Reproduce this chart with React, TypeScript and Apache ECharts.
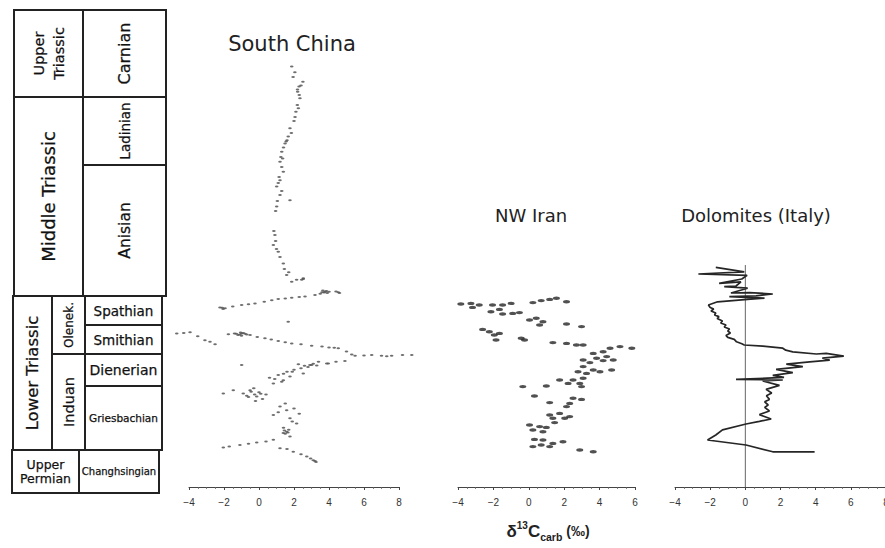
import React, { useEffect, useRef } from "react";
import * as echarts from "echarts";

// ---- stratigraphic column (levels: 0 = base of column, 121 = top) ----
const unitNames = [
  "Upper\nTriassic", "Carnian", "Middle Triassic", "Ladinian", "Anisian",
  "Lower Triassic", "Olenek.", "Induan", "Spathian", "Smithian", "Dienerian",
  "Griesbachian", "Upper\nPermian", "Changhsingian",
];
const unitTop = [120.75, 120.75, 99, 99, 82, 49.25, 49.25, 34.75, 49.25, 42, 34.75, 26.75, 10.75, 10.75];
const unitBase = [99, 99, 49.25, 82, 49.25, 10.75, 34.75, 10.75, 42, 34.75, 26.75, 10.75, 0, 0];

// ---- δ13C carb data: [value ‰, stratigraphic level] ----
const southChina: [number, number][] = [
  [1.87, 106.6], [2.05, 105.2], [1.95, 104], [2.51, 102.8], [2.4, 101.9], [2.29, 101.6], [2.21, 100.3],
  [2.3, 99.5], [2.34, 98.7], [2.19, 97], [2.25, 96.2], [2.11, 95.3], [2.06, 94], [2.0, 93], [1.77, 91.2],
  [1.85, 90], [1.67, 89.1], [1.6, 88.2], [1.49, 87.4], [1.4, 86.4], [1.3, 85.3], [1.25, 84], [1.2, 82.8],
  [1.3, 81.5], [1.39, 80.3], [1.15, 79], [1.1, 77.5], [1.01, 76.6], [1.3, 75.5], [1.2, 74.5], [1.77, 73.2],
  [1.05, 73], [1.01, 71.6], [0.95, 70.5], [0.85, 65.5], [0.91, 64.5], [0.95, 63], [0.82, 62], [1.0, 61],
  [1.1, 60.3], [1.2, 59], [1.39, 57.4], [1.45, 56], [1.7, 55.2], [1.58, 54.5], [2.15, 53.3], [2.53, 53.7],
  [1.87, 52.8], [2.44, 53.3], [2.53, 53.5], [2.2, 100.9], [1.55, 87.9], [1.35, 83.6], [1.2, 78.2],
  [3.77, 50.3], [3.65, 50.6], [3.9, 50.0], [4.53, 50.2], [4.4, 50.4], [3.5, 49.8], [3.2, 49.5], [2.63, 49.1],
  [3.85, 50.5], [3.72, 50.1], [4.0, 50.3], [3.6, 50.2], [4.6, 50.0],
  [2.3, 49.0], [1.87, 48.8], [1.5, 48.6], [1.1, 48.5], [0.73, 48.2], [0.3, 47.8], [-0.23, 47.4], [-0.6, 47.2],
  [-0.99, 47], [-1.5, 46.6], [-1.94, 46.2], [-2.23, 46.4], [-2.05, 46.0], [-2.1, 46.3], [1.67, 42.8],
  [-4.7, 39.9], [-4.3, 40.0], [-3.94, 40.2], [-3.5, 39.2], [-3.09, 38.2], [-2.8, 37.8], [-2.51, 37.2],
  [-1.75, 39.7], [-1.4, 39.9], [-1.2, 39.5], [-1.05, 40.1], [-0.99, 39.9], [-0.8, 39.8], [-0.51, 39.5],
  [-1.3, 39.8], [-1.1, 39.6], [-0.9, 40.0], [-0.7, 39.6], [-1.0, 39.3],
  [-0.1, 39.0], [0.34, 38.7], [0.7, 38.4], [1.1, 38], [1.5, 37.7], [1.87, 37.4], [2.4, 37.2], [3.01, 36.8],
  [3.6, 36.6], [4.0, 36.4], [4.53, 36.2], [5.0, 35.4], [5.49, 34.3], [6.0, 34.4], [6.44, 34.5], [7.0, 34.3],
  [7.58, 34.3], [8.2, 34.5], [8.73, 34.5], [4.3, 36.3], [5.3, 34.6], [7.3, 34.2],
  [4.91, 33], [4.4, 32.8], [3.96, 32.4], [3.87, 32.4], [3.4, 32.8], [3.01, 32], [2.91, 32], [2.25, 32.2],
  [2.8, 31.5], [2.4, 31.2], [2.0, 30.8], [1.6, 30.3], [2.53, 29.9], [1.1, 29.5], [1.77, 29.1], [0.6, 28.8],
  [1.39, 28.2], [1.3, 27.8], [0.82, 27.4], [-0.99, 32], [3.1, 32.3], [2.6, 31.8], [3.3, 31.9], [1.9, 30.3],
  [1.4, 29.8], [0.9, 28.5],
  [-0.3, 26.2], [-0.51, 25.7], [-1.47, 25.7], [0.0, 25.2], [-2.04, 24.9], [-0.9, 24.9], [0.4, 24.6],
  [-0.7, 24.3], [-0.13, 24.1], [0.2, 23.5], [-0.2, 23], [-0.45, 25.3], [-0.25, 24.6], [0.1, 24.8],
  [-0.6, 24.0], [1.5, 22.4], [1.2, 21.6], [2.0, 21.1], [1.58, 20.7],
  [1.1, 20.2], [2.3, 19.8], [0.82, 19.5], [1.77, 18.7], [1.9, 17.9], [2.15, 17.4], [1.4, 16.3], [1.7, 15.8],
  [1.58, 15.3], [1.39, 15.0], [1.5, 14.8], [1.77, 14.1], [1.65, 15.1], [1.45, 15.6], [0.82, 13.3],
  [-0.13, 12.6], [-1.09, 12.0], [-2.04, 11.4], [-1.7, 11.6], [-0.6, 12.3], [0.4, 12.9], [1.2, 11.2],
  [1.6, 11.0], [1.96, 10.3], [2.4, 9.7], [2.73, 9.1], [3.1, 8.2], [3.26, 7.75], [2.95, 8.6], [3.2, 8.0],
];

const nwIran: [number, number][] = [
  [-3.84, 47.25], [-3.27, 47.4], [-2.8, 47], [-3.18, 46.4], [-2.05, 47], [-1.48, 47], [-1.0, 47.4],
  [-1.66, 45.9], [-2.14, 45.3], [-1.48, 44.75], [-0.91, 44.9], [-0.53, 45.1], [0.23, 47.6], [0.7, 48.1],
  [1.18, 48.4], [1.56, 48.7], [2.13, 47.8], [0.04, 43.25], [0.42, 43.7], [0.8, 42.8], [0.61, 42],
  [2.13, 42.25], [2.98, 41.6], [-2.61, 40.9], [-2.23, 40.3], [-1.66, 39.9], [-1.95, 39.5], [-1.85, 38.25],
  [-0.43, 38.7], [-0.24, 38.25], [1.36, 37.6], [2.13, 37.4], [2.69, 37], [3.07, 37], [3.64, 34.9],
  [4.2, 35.3], [4.59, 36.2], [5.15, 36.6], [5.82, 36.2], [3.83, 33.7], [4.4, 34.1], [3.07, 33.25],
  [3.45, 32.6], [4.2, 33.1], [4.77, 33.25], [3.07, 31.6], [3.64, 30.75], [2.78, 30.3], [3.26, 29.9],
  [4.02, 30.3], [4.68, 30.75], [3.07, 28.7], [2.5, 28.25], [1.74, 28.25], [2.22, 27.4], [2.88, 27.4],
  [2.98, 26.6], [-0.34, 26.6], [0.99, 26.75], [0.32, 24.25], [2.5, 23.7], [2.98, 23.4], [1.18, 22.6],
  [2.31, 22.4], [2.13, 21.6], [1.18, 19.5], [1.74, 19.9], [2.03, 18.7], [1.36, 18.7], [2.31, 19.1],
  [1.46, 17.6], [0.04, 17], [0.61, 16.6], [0.99, 16.4], [0.23, 15.75], [0.8, 15.3], [0.32, 13.4],
  [0.8, 13.25], [1.36, 12.4], [1.93, 12.8], [0.23, 11.6], [0.7, 12], [1.18, 11.6], [2.88, 10.75],
  [3.64, 10.3],
];

const dolomites: [number, number][] = [
  [-1.68, 56.4], [-0.06, 55.3], [-2.67, 54.75], [0.1, 54.4], [-0.2, 53.5], [-1.49, 52.4], [-0.25, 52.8],
  [-0.53, 51.75], [-1.2, 51.6], [0.13, 51.2], [-0.82, 50.0], [0.23, 50.1], [1.56, 49.75], [0.61, 49.3],
  [-0.91, 49.1], [1.09, 48.7], [0.13, 48.4], [-1.58, 47.8], [-2.1, 47], [-2.0, 46.4], [-1.8, 46.0],
  [-1.95, 45.5], [-1.68, 45], [-1.75, 44.5], [-1.5, 44.1], [-1.6, 43.6], [-1.3, 43.0], [-1.4, 42.5],
  [-1.1, 42.0], [-1.2, 41.5], [-0.9, 41], [-1.0, 40.5], [-0.85, 40], [-1.1, 39.4], [-1.0, 38.9],
  [-0.63, 38.4], [-0.5, 37.8], [-0.2, 37.3], [-0.06, 37], [1.0, 36.7], [2.13, 36.2], [2.3, 35.7],
  [2.7, 35.3], [4.04, 34.75], [4.6, 34.9], [5.6, 34.2], [4.38, 33.7], [4.8, 33.2], [3.66, 32.8],
  [2.33, 32.2], [3.27, 31.6], [1.75, 30.9], [2.7, 30.1], [1.56, 29.4], [2.2, 28.9], [-0.53, 28.4],
  [2.13, 28.25], [0.99, 28.0], [1.94, 26.9], [1.18, 25.9], [1.5, 25.0], [1.2, 24.3], [1.37, 23.4],
  [1.1, 22.8], [1.3, 22], [1.1, 21.4], [1.37, 20.5], [0.8, 19.6], [1.47, 18.5], [0.8, 17.9],
  [0.04, 17.25], [-1.3, 15.8], [-1.68, 14.5], [-2.15, 13.25], [0.04, 12], [1.56, 10.3], [3.94, 10.3],
];
const dolomitesZeroLine: [number, number][] = [[0, 57], [0, 1.5]];

const panelTitles = ["South China", "NW Iran", "Dolomites (Italy)"];
const xRanges: [number, number][] = [[-4, 8], [-4, 6], [-4, 8]];

// ---- layout / style (not data) ----
const cellLayout: Record<string, { x0: number; x1: number; size: number; rot: boolean; lh?: number }> = {
  "Upper\nTriassic": { x0: 3, x1: 72, size: 14.5, rot: true, lh: 20 },
  Carnian: { x0: 72, x1: 155, size: 16, rot: true },
  "Middle Triassic": { x0: 3, x1: 72, size: 18, rot: true },
  Ladinian: { x0: 72, x1: 155, size: 13.5, rot: true },
  Anisian: { x0: 72, x1: 155, size: 15.5, rot: true },
  "Lower Triassic": { x0: 2, x1: 41, size: 16.5, rot: true },
  "Olenek.": { x0: 41, x1: 74, size: 12, rot: true },
  Induan: { x0: 41, x1: 74, size: 14.5, rot: true },
  Spathian: { x0: 74, x1: 151, size: 13.5, rot: false },
  Smithian: { x0: 74, x1: 151, size: 13.5, rot: false },
  Dienerian: { x0: 74, x1: 151, size: 14, rot: false },
  Griesbachian: { x0: 74, x1: 151, size: 10.5, rot: false },
  "Upper\nPermian": { x0: 1, x1: 68, size: 12.5, rot: false, lh: 14 },
  Changhsingian: { x0: 68, x1: 148, size: 10, rot: false },
};

const FONT = "DejaVu Sans";
const ELLIPSE = "path://M0,1A2,1 0 1,0 4,1A2,1 0 1,0 0,1Z";

const fmt = (v: number) => (v < 0 ? "\u2212" + Math.abs(v) : String(v));

function mkX(gridIndex: number, range: [number, number]) {
  return {
    gridIndex,
    type: "value",
    min: range[0],
    max: range[1],
    interval: 2,
    axisLine: { show: true, onZero: false, lineStyle: { color: "#444", width: 1 } },
    axisTick: { show: true, length: 3, lineStyle: { color: "#444", width: 1 } },
    minorTick: { show: true, splitNumber: 4, length: 2, lineStyle: { color: "#666", width: 0.8 } },
    axisLabel: { fontSize: 10, color: "#333", margin: 10, fontFamily: "Liberation Sans", formatter: fmt, showMaxLabel: true, showMinLabel: true },
    splitLine: { show: false },
    minorSplitLine: { show: false },
  };
}
function mkY(gridIndex: number, min: number) {
  return { gridIndex, type: "value", min, max: 121, show: false, splitLine: { show: false } };
}

export default function App() {
  const ref = useRef<HTMLDivElement>(null);
  useEffect(() => {
    if (!ref.current) return;
    const chart = echarts.init(ref.current, null, { renderer: "svg" });

    const columnData = unitNames.map((n, i) => [i, unitTop[i], unitBase[i]]);

    const option: any = {
      animation: false,
      backgroundColor: "#ffffff",
      grid: [
        { left: 11, top: 9, width: 155, height: 484, outerBoundsMode: "none", containLabel: false },
        { left: 189, top: 9, width: 210, height: 478, outerBoundsMode: "none", containLabel: false },
        { left: 458, top: 9, width: 177, height: 478, outerBoundsMode: "none", containLabel: false },
        { left: 675, top: 9, width: 211, height: 478, outerBoundsMode: "none", containLabel: false },
      ],
      xAxis: [
        { gridIndex: 0, type: "value", min: 0, max: 155, show: false, splitLine: { show: false } },
        mkX(1, xRanges[0]),
        mkX(2, xRanges[1]),
        mkX(3, xRanges[2]),
      ],
      yAxis: [
        { gridIndex: 0, type: "value", min: 0, max: 121, show: false, splitLine: { show: false } },
        mkY(1, 1.5),
        mkY(2, 1.5),
        mkY(3, 1.5),
      ],
      series: [
        {
          type: "custom",
          xAxisIndex: 0,
          yAxisIndex: 0,
          data: columnData,
          encode: { x: 0, y: [1, 2] },
          clip: false,
          renderItem: (params: any, api: any) => {
            const idx = api.value(0);
            const name = unitNames[idx];
            const lay = cellLayout[name];
            const p0 = api.coord([lay.x0, api.value(1)]);
            const p1 = api.coord([lay.x1, api.value(2)]);
            const cx = (p0[0] + p1[0]) / 2;
            const cy = (p0[1] + p1[1]) / 2;
            return {
              type: "group",
              children: [
                {
                  type: "rect",
                  shape: { x: p0[0], y: p0[1], width: p1[0] - p0[0], height: p1[1] - p0[1] },
                  style: { fill: "none", stroke: "#222", lineWidth: 2 },
                },
                {
                  type: "text",
                  x: cx,
                  y: cy,
                  rotation: lay.rot ? Math.PI / 2 : 0,
                  style: {
                    text: name,
                    fontSize: lay.size,
                    fontFamily: FONT,
                    lineHeight: lay.lh || lay.size * 1.2,
                    fill: "#111",
                    stroke: "#111",
                    lineWidth: 0.25,
                    align: "center",
                    verticalAlign: "middle",
                    textAlign: "center",
                    textVerticalAlign: "middle",
                  },
                },
              ],
            };
          },
        },
        {
          type: "scatter",
          xAxisIndex: 1,
          yAxisIndex: 1,
          data: southChina,
          clip: false,
          symbol: ELLIPSE,
          symbolSize: [3.6, 2],
          itemStyle: { color: "#555", opacity: 0.85 },
        },
        {
          type: "scatter",
          xAxisIndex: 2,
          yAxisIndex: 2,
          data: nwIran,
          clip: false,
          symbol: ELLIPSE,
          symbolSize: [7, 3.4],
          itemStyle: { color: "#262626" },
        },
        {
          type: "line",
          xAxisIndex: 3,
          yAxisIndex: 3,
          data: dolomitesZeroLine,
          clip: false,
          showSymbol: false,
          symbol: "none",
          lineStyle: { color: "#555", width: 0.9 },
          z: 1,
        },
        {
          type: "line",
          xAxisIndex: 3,
          yAxisIndex: 3,
          data: dolomites,
          clip: false,
          showSymbol: false,
          symbol: "none",
          lineStyle: { color: "#262626", width: 1.7 },
          z: 2,
        },
      ],
      graphic: [
        {
          type: "text", x: 292, y: 44,
          style: { text: panelTitles[0], fontSize: 21, fontFamily: FONT, fill: "#222", align: "center", verticalAlign: "middle", textAlign: "center", textVerticalAlign: "middle" },
        },
        {
          type: "text", x: 531, y: 215,
          style: { text: panelTitles[1], fontSize: 18, fontFamily: FONT, fill: "#222", align: "center", verticalAlign: "middle", textAlign: "center", textVerticalAlign: "middle" },
        },
        {
          type: "text", x: 756, y: 215,
          style: { text: panelTitles[2], fontSize: 18, fontFamily: FONT, fill: "#222", align: "center", verticalAlign: "middle", textAlign: "center", textVerticalAlign: "middle" },
        },
        {
          type: "text", x: 548, y: 531,
          style: {
            text: "{d|δ}{s|13}{c|C}{b|carb}{p| (‰)}",
            align: "center", verticalAlign: "middle", textAlign: "center", textVerticalAlign: "middle",
            fill: "#222",
            rich: {
              d: { fontSize: 17, fontFamily: "Liberation Sans", fontWeight: "bold", lineHeight: 22, fill: "#222" },
              s: { fontSize: 10, fontFamily: "Liberation Sans", fontWeight: "bold", verticalAlign: "top", lineHeight: 22, fill: "#222" },
              c: { fontSize: 17, fontFamily: "Liberation Sans", fontWeight: "bold", lineHeight: 22, fill: "#222" },
              b: { fontSize: 10.5, fontFamily: "Liberation Sans", fontWeight: "bold", verticalAlign: "bottom", lineHeight: 22, fill: "#222" },
              p: { fontSize: 14, fontFamily: "Liberation Sans", fontWeight: "bold", lineHeight: 22, fill: "#222" },
            },
          },
        },
      ],
    };
    chart.setOption(option);
    return () => chart.dispose();
  }, []);
  return <div ref={ref} style={{ position: "fixed", left: 0, top: 0, width: 885, height: 548 }} />;
}
